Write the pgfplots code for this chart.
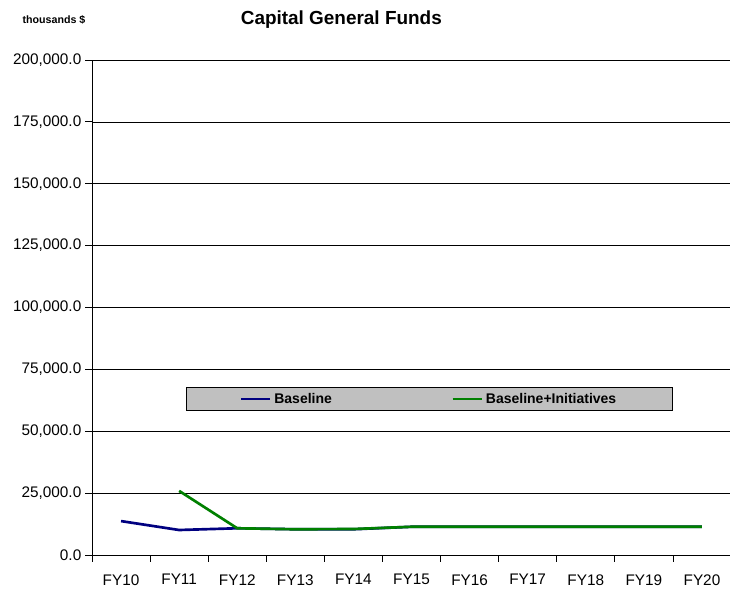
\documentclass[border=0pt]{standalone}
\usepackage{pgfplots}
\pgfplotsset{compat=1.18}
\usepackage{fontspec}
\setmainfont{Liberation Sans}
\definecolor{navyline}{RGB}{0,0,128}
\definecolor{greenline}{RGB}{0,128,0}
\definecolor{legfill}{RGB}{192,192,192}
\begin{document}
\begin{tikzpicture}
\useasboundingbox (0,0) rectangle (547.5pt,444pt);
\node[font=\bfseries\fontsize{14.2}{16}\selectfont] at (256pt,429pt) {Capital General Funds};
\node[font=\bfseries\fontsize{8}{9}\selectfont] at (40.5pt,429pt) {thousands \$};
\begin{axis}[
  at={(69pt,27.75pt)}, anchor=south west, scale only axis,
  width=479.25pt, height=371.25pt,
  xmin=-0.5, xmax=10.5, ymin=0, ymax=200000,
  axis lines*=left,
  axis line style={black, line width=0.6pt},
  xtick={0,...,10},
  xticklabels={FY10,FY11,FY12,FY13,FY14,FY15,FY16,FY17,FY18,FY19,FY20},
  minor xtick={-0.5,0.5,...,10.5},
  major x tick style={draw=none},
  minor x tick style={black, line width=0.6pt},
  major y tick style={black, line width=0.6pt},
  tick align=outside,
  major tick length=5pt, minor tick length=5pt,
  ytick={0,25000,...,200000},
  scaled y ticks=false,
  ymajorgrids,
  major grid style={black, line width=0.5pt},
  /pgf/number format/assume math mode=true,
  yticklabel style={/pgf/number format/fixed, /pgf/number format/fixed zerofill,
    /pgf/number format/precision=1, /pgf/number format/1000 sep={,}, xshift=0.5pt},
  tick label style={font=\fontsize{11.5}{13}\selectfont},
  xticklabel style={yshift=-6pt},
  clip=false,
  legend columns=2,
  legend image code/.code={\draw[#1, line width=2pt] (0pt,0pt) -- (22pt,0pt);},
  legend style={at={(0.147,0.291)}, anchor=south west, fill=legfill, draw=black, line width=0.6pt,
    font=\bfseries\fontsize{10.5}{12}\selectfont, inner xsep=40pt, inner ysep=2pt,
    /tikz/every even column/.append style={column sep=87.5pt}},
]
\addplot[navyline, line width=2pt] coordinates {
  (0,13700) (1,10100) (2,10800) (3,10400) (4,10400) (5,11400)
  (6,11400) (7,11400) (8,11400) (9,11400) (10,11400)};
\addlegendentry{Baseline}
\addplot[greenline, line width=2pt] coordinates {
  (1,25900) (2,10800) (3,10400) (4,10500) (5,11400)
  (6,11400) (7,11400) (8,11400) (9,11400) (10,11400)};
\addlegendentry{Baseline+Initiatives}
\end{axis}
\end{tikzpicture}
\end{document}
